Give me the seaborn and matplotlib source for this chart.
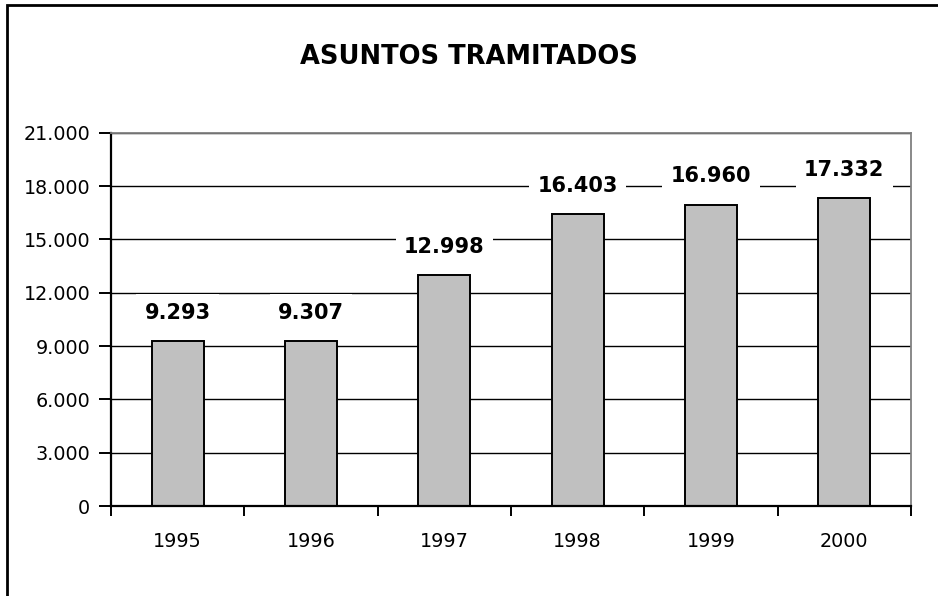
import matplotlib
matplotlib.use("Agg")
import matplotlib.pyplot as plt
import matplotlib.ticker as mticker
from matplotlib.patches import Rectangle
import seaborn as sns
import pandas as pd

years = ["1995", "1996", "1997", "1998", "1999", "2000"]
values = [9293, 9307, 12998, 16403, 16960, 17332]
yticks = [0, 3000, 6000, 9000, 12000, 15000, 18000, 21000]
title = "ASUNTOS TRAMITADOS"

sns.set_style("white")
plt.rcParams["font.family"] = ["DejaVu Sans"]
plt.rcParams["text.color"] = "black"

W, H = 938, 596
fig = plt.figure(figsize=(W / 100, H / 100), dpi=100)
ax = fig.add_axes([111 / W, (H - 506) / H, (911 - 111) / W, (506 - 132.7) / H])

df = pd.DataFrame({"year": years, "value": values})
sns.barplot(data=df, x="year", y="value", ax=ax, color="#C0C0C0", saturation=1,
            edgecolor="black", linewidth=1.4, width=0.39, zorder=2)

ax.set_ylim(0, 21000)
ax.set_xlim(-0.5, len(years) - 0.5)
ax.set_yticks(yticks)
ax.yaxis.set_major_formatter(mticker.FuncFormatter(lambda v, p: f"{int(v):,}".replace(",", ".")))
ax.set_axisbelow(True)
ax.yaxis.grid(True, color="black", linewidth=1.0)
ax.xaxis.grid(False)

# x ticks at category boundaries, labels at centers
ax.set_xticks([i - 0.5 for i in range(len(years) + 1)])
ax.set_xticklabels([])
ax.set_xticks(range(len(years)), minor=True)
ax.set_xticklabels(years, minor=True)
ax.tick_params(axis="x", which="major", direction="out", length=7, width=1.4, color="black", bottom=True)
ax.tick_params(axis="x", which="minor", length=0, pad=19, labelsize=13.8, labelcolor="black")
ax.tick_params(axis="y", direction="out", length=9, width=1.4, color="black", left=True,
               pad=6, labelsize=13.8, labelcolor="black")
ax.set_xlabel("")
ax.set_ylabel("")

for s in ["left", "bottom"]:
    ax.spines[s].set_color("black")
    ax.spines[s].set_linewidth(1.6)
for s in ["top", "right"]:
    ax.spines[s].set_color("#808080")
    ax.spines[s].set_linewidth(1.3)

for i, v in enumerate(values):
    ax.annotate(f"{v:,}".replace(",", "."), xy=(i, v), xytext=(0, 13), textcoords="offset points",
                ha="center", va="bottom", fontsize=15, fontweight="bold", color="black",
                bbox=dict(boxstyle="square,pad=0.4", fc="white", ec="none"), zorder=5)

fig.text(469 / W, 1 - 57.5 / H, title, ha="center", va="center", fontsize=18.5,
         fontweight="bold", color="black")

fig.patches.append(Rectangle((7 / W, -0.1), 1.2, 1.1 - 4.5 / H, transform=fig.transFigure,
                             fill=False, edgecolor="black", linewidth=2, clip_on=False))

fig.savefig("out.png", dpi=100)
